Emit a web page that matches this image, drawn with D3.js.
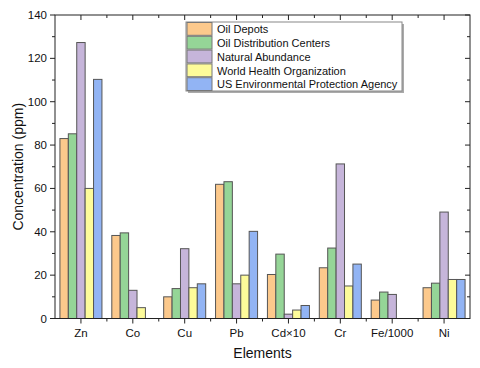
<!DOCTYPE html>
<html>
<head>
<meta charset="utf-8">
<script src="https://cdn.jsdelivr.net/npm/d3@7"></script>
<style>
  body { margin: 0; background: #fff; }
  text { font-family: "Liberation Sans", Arial, sans-serif; fill: #111; }
</style>
</head>
<body>
<script>
var elements = ["Zn", "Co", "Cu", "Pb", "Cd\u00d710", "Cr", "Fe/1000", "Ni"];
var seriesNames = ["Oil Depots", "Oil Distribution Centers", "Natural Abundance",
  "World Health Organization", "US Environmental Protection Agency"];
var colors = ["#fcc98c", "#95d597", "#c6b5da", "#fdfb9a", "#92b4f4"];

// one array per series, null = no bar
var oilDepots    = [83, 38.3, 10, 61.9, 20.3, 23.4, 8.5, 14.2];
var oilDist      = [85.2, 39.5, 13.8, 63.1, 29.7, 32.5, 12.2, 16.3];
var natural      = [127.3, 13, 32.2, 16, 2, 71.3, 11.1, 49.1];
var who          = [60, 5, 14.2, 20, 3.9, 15, null, 18];
var usepa        = [110.3, null, 16, 40.2, 6, 25.1, null, 18];
var series = [oilDepots, oilDist, natural, who, usepa];

var yTicks = [0, 20, 40, 60, 80, 100, 120, 140];

var width = 480, height = 368;
var m = {left: 55, right: 10, top: 15, bottom: 49.5};

var svg = d3.select("body").append("svg")
  .attr("width", width)
  .attr("height", height);

var x0 = d3.scaleBand()
  .domain(elements)
  .range([m.left, width - m.right])
  .padding(0);

var bw = x0.bandwidth();
var x1 = d3.scaleBand()
  .domain(d3.range(series.length))
  .range([bw * 0.095, bw * 0.905])
  .padding(0);

var y = d3.scaleLinear()
  .domain([0, 140])
  .range([height - m.bottom, m.top]);

// bars
var groups = svg.append("g")
  .selectAll("g")
  .data(elements)
  .enter()
  .append("g")
  .attr("transform", d => `translate(${x0(d)},0)`);

groups.selectAll("rect")
  .data((d, i) => series.map((s, k) => ({k: k, v: s[i]})).filter(e => e.v != null))
  .enter()
  .append("rect")
  .attr("x", d => x1(d.k))
  .attr("width", x1.bandwidth())
  .attr("y", d => y(d.v))
  .attr("height", d => y(0) - y(d.v))
  .attr("fill", d => colors[d.k])
  .attr("stroke", "#555")
  .attr("stroke-width", 1);

// axes
var catCenters = elements.map(d => x0(d) + bw / 2);
var catBounds = d3.range(1, elements.length).map(i => x0.range()[0] + i * bw);

var ax = svg.append("g").attr("stroke", "#222").attr("stroke-width", 1);

// frame
ax.append("rect")
  .attr("x", m.left).attr("y", m.top)
  .attr("width", width - m.right - m.left)
  .attr("height", height - m.bottom - m.top)
  .attr("fill", "none");

var yb = y(0), yt = y(140), xl = m.left, xr = width - m.right;

// bottom ticks (outward), top ticks (inward)
catCenters.forEach(cx => {
  ax.append("line").attr("x1", cx).attr("x2", cx).attr("y1", yb).attr("y2", yb + 5);
  ax.append("line").attr("x1", cx).attr("x2", cx).attr("y1", yt).attr("y2", yt + 5);
});
catBounds.forEach(cx => {
  ax.append("line").attr("x1", cx).attr("x2", cx).attr("y1", yb).attr("y2", yb + 3);
  ax.append("line").attr("x1", cx).attr("x2", cx).attr("y1", yt).attr("y2", yt + 3);
});

// left ticks (outward), right ticks (inward)
d3.range(0, 141, 10).forEach(v => {
  var len = v % 20 === 0 ? 5 : 3;
  ax.append("line").attr("x1", xl - len).attr("x2", xl).attr("y1", y(v)).attr("y2", y(v));
  ax.append("line").attr("x1", xr - len).attr("x2", xr).attr("y1", y(v)).attr("y2", y(v));
});

svg.append("g")
  .selectAll("text")
  .data(yTicks)
  .enter()
  .append("text")
  .attr("x", xl - 8)
  .attr("y", d => y(d))
  .attr("dy", "0.35em")
  .attr("text-anchor", "end")
  .attr("font-size", 11.5)
  .text(d => d);

svg.append("g")
  .selectAll("text")
  .data(elements)
  .enter()
  .append("text")
  .attr("x", d => x0(d) + bw / 2)
  .attr("y", yb + 18)
  .attr("text-anchor", "middle")
  .attr("font-size", 11.5)
  .text(d => d);

svg.append("text")
  .attr("x", (xl + xr) / 2)
  .attr("y", 358)
  .attr("text-anchor", "middle")
  .attr("font-size", 14)
  .text("Elements");

svg.append("text")
  .attr("transform", `translate(23,${(yb + yt) / 2}) rotate(-90)`)
  .attr("text-anchor", "middle")
  .attr("font-size", 14)
  .text("Concentration (ppm)");

// legend
var lg = svg.append("g").attr("transform", "translate(186,22)");
var lw = 216, lh = 69, rowH = 13.8;
lg.append("rect")
  .attr("x", 2).attr("y", 2).attr("width", lw).attr("height", lh)
  .attr("fill", "#aaa");
lg.append("rect")
  .attr("width", lw).attr("height", lh)
  .attr("fill", "#fff").attr("stroke", "#888");

var items = lg.selectAll("g.item")
  .data(seriesNames)
  .enter()
  .append("g")
  .attr("class", "item")
  .attr("transform", (d, i) => `translate(1,${i * rowH + 0.5})`);

items.append("rect")
  .attr("width", 25).attr("height", rowH - 1)
  .attr("fill", (d, i) => colors[i])
  .attr("stroke", "#777");

items.append("text")
  .attr("x", 30)
  .attr("y", rowH / 2)
  .attr("dy", "0.35em")
  .attr("font-size", 11)
  .text(d => d);
</script>
</body>
</html>
